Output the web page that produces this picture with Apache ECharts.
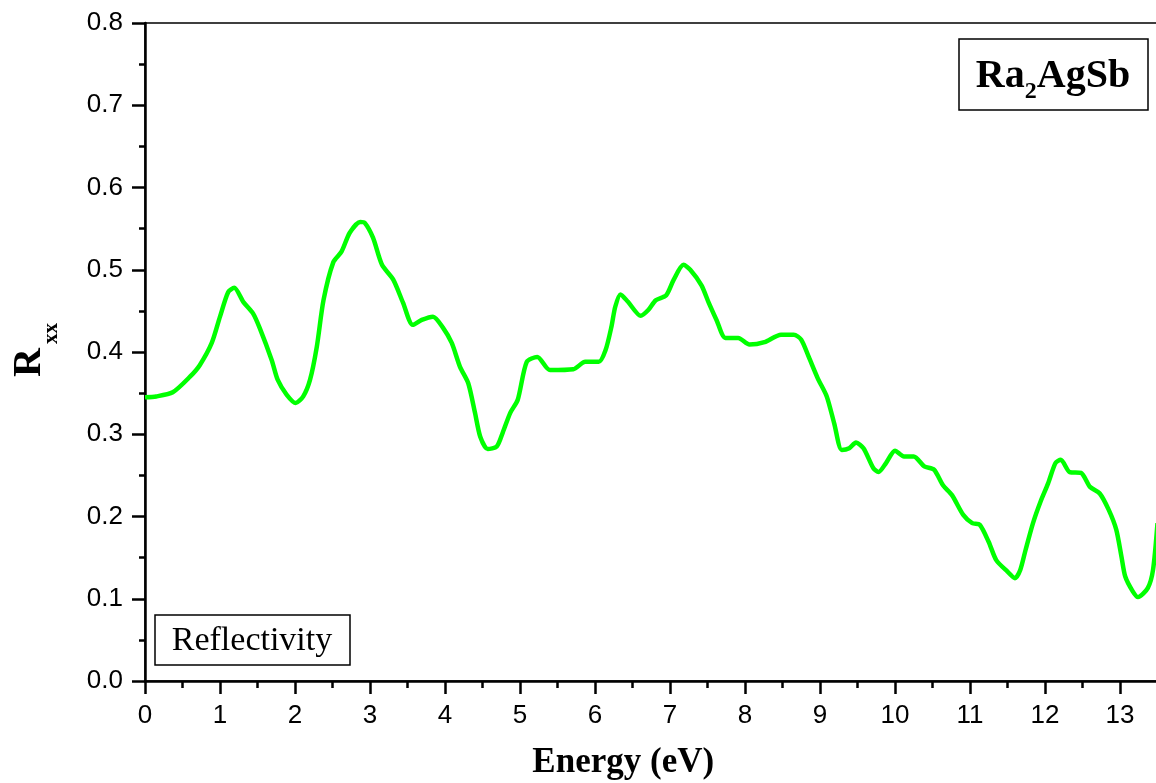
<!DOCTYPE html>
<html><head><meta charset="utf-8">
<script src="https://cdn.jsdelivr.net/npm/echarts@6/dist/echarts.min.js"></script>
<style>html,body{margin:0;padding:0;background:#fff}#c{width:1156px;height:783px}</style>
</head><body><div id="c"></div>
<script>
const energy = [0.00,0.15,0.37,0.60,0.73,0.89,1.00,1.11,1.19,1.31,1.44,1.53,1.69,1.77,1.89,2.01,2.11,2.20,2.29,2.38,2.51,2.62,2.73,2.87,2.93,3.04,3.16,3.31,3.44,3.57,3.69,3.84,3.97,4.09,4.20,4.31,4.40,4.47,4.57,4.69,4.77,4.87,4.97,5.09,5.23,5.40,5.71,5.87,6.05,6.14,6.22,6.27,6.34,6.44,6.61,6.71,6.81,6.95,7.05,7.18,7.27,7.42,7.52,7.62,7.74,7.91,8.06,8.26,8.48,8.65,8.75,8.85,8.97,9.09,9.19,9.29,9.39,9.48,9.58,9.71,9.78,9.88,10.00,10.12,10.25,10.39,10.52,10.64,10.76,10.91,11.03,11.13,11.25,11.35,11.50,11.60,11.67,11.74,11.84,11.94,12.04,12.14,12.21,12.33,12.48,12.60,12.73,12.85,12.95,13.02,13.07,13.17,13.24,13.37,13.44,13.50];
const reflectivity = [0.345,0.346,0.351,0.370,0.384,0.411,0.443,0.473,0.478,0.461,0.447,0.429,0.390,0.366,0.348,0.338,0.346,0.366,0.406,0.463,0.509,0.522,0.545,0.558,0.557,0.539,0.506,0.488,0.460,0.433,0.439,0.443,0.430,0.411,0.382,0.362,0.326,0.297,0.282,0.285,0.302,0.326,0.342,0.388,0.394,0.378,0.379,0.388,0.388,0.402,0.431,0.455,0.470,0.461,0.444,0.451,0.463,0.469,0.488,0.506,0.500,0.481,0.459,0.439,0.417,0.417,0.409,0.412,0.421,0.421,0.415,0.394,0.368,0.346,0.313,0.281,0.283,0.290,0.283,0.259,0.254,0.265,0.280,0.273,0.273,0.261,0.257,0.238,0.226,0.202,0.192,0.190,0.169,0.147,0.133,0.125,0.135,0.159,0.192,0.218,0.240,0.265,0.269,0.254,0.253,0.236,0.228,0.208,0.184,0.151,0.127,0.109,0.102,0.113,0.135,0.192];
const xTitle = 'Energy (eV)';
const yTitle = ['R', 'xx'];
const compound = ['Ra', '2', 'AgSb'];
const panelLabel = 'Reflectivity';

const chart = echarts.init(document.getElementById('c'), null, {renderer: 'canvas'});
const tickFont = {color: '#000', fontFamily: '"Liberation Sans", Arial, sans-serif', fontSize: 26};
chart.setOption({
  animation: false,
  backgroundColor: '#fff',
  grid: {left: 145, top: 23, height: 658, width: 1012.5, containLabel: false, outerBoundsMode: 'none',
         show: true, borderColor: '#000', borderWidth: 1.5, backgroundColor: 'transparent'},
  xAxis: {
    type: 'value', min: 0, max: 13.5, interval: 1,
    name: xTitle, nameLocation: 'middle', nameGap: 64,
    nameTextStyle: {fontFamily: '"Liberation Serif", "Times New Roman", serif', fontWeight: 'bold', fontSize: 35, color: '#000', padding: [0, 56, 0, 0]},
    axisLine: {show: true, onZero: false, lineStyle: {color: '#000', width: 2.5}},
    axisTick: {show: true, inside: false, length: 13, lineStyle: {color: '#000', width: 2.5}},
    minorTick: {show: true, splitNumber: 2, length: 7, lineStyle: {color: '#000', width: 2.5}},
    axisLabel: Object.assign({margin: 22, formatter: v => (Math.abs(v - Math.round(v)) < 1e-9 ? String(Math.round(v)) : '')}, tickFont),
    splitLine: {show: false}, minorSplitLine: {show: false}
  },
  yAxis: {
    type: 'value', min: 0, max: 0.8, interval: 0.1,
    name: '{r|' + yTitle[0] + '}{s|' + yTitle[1] + '}', nameLocation: 'middle', nameGap: 83,
    nameTextStyle: {color: '#000', padding: [0, 0, 0, 4], rich: {
      r: {fontFamily: '"Liberation Serif", "Times New Roman", serif', fontWeight: 'bold', fontSize: 40, color: '#000'},
      s: {fontFamily: '"Liberation Serif", "Times New Roman", serif', fontWeight: 'bold', fontSize: 21, color: '#000', padding: [44, 0, 0, 4]}
    }},
    axisLine: {show: true, onZero: false, lineStyle: {color: '#000', width: 2.5}},
    axisTick: {show: true, inside: false, length: 13, lineStyle: {color: '#000', width: 2.5}},
    minorTick: {show: true, splitNumber: 2, length: 6, lineStyle: {color: '#000', width: 2.5}},
    axisLabel: Object.assign({margin: 22, formatter: v => v.toFixed(1)}, tickFont),
    splitLine: {show: false}, minorSplitLine: {show: false}
  },
  series: [{
    type: 'line', name: panelLabel,
    data: energy.map((e, i) => [e, reflectivity[i]]),
    showSymbol: false, smooth: 0.25,
    lineStyle: {color: '#00ff00', width: 4.5}, itemStyle: {color: '#00ff00'}
  }],
  graphic: [
    {type: 'rect', shape: {x: 959, y: 39, width: 189, height: 71}, style: {fill: '#fff', stroke: '#000', lineWidth: 1.5}, z: 100},
    {type: 'text', x: 1053, y: 77, z: 101, style: {
      text: '{b|' + compound[0] + '}{s|' + compound[1] + '}{b|' + compound[2] + '}',
      align: 'center', verticalAlign: 'middle',
      rich: {
        b: {fontFamily: '"Liberation Serif", "Times New Roman", serif', fontWeight: 'bold', fontSize: 40, fill: '#000', color: '#000'},
        s: {fontFamily: '"Liberation Serif", "Times New Roman", serif', fontWeight: 'bold', fontSize: 24, fill: '#000', color: '#000', padding: [30, 0, 0, 0]}
      }
    }},
    {type: 'rect', shape: {x: 155, y: 615, width: 195, height: 50}, style: {fill: '#fff', stroke: '#000', lineWidth: 1.5}, z: 100},
    {type: 'text', x: 252, y: 641, z: 101, style: {text: panelLabel, align: 'center', verticalAlign: 'middle', fill: '#000',
      font: '34px "Liberation Serif", "Times New Roman", serif'}}
  ]
});
</script></body></html>
